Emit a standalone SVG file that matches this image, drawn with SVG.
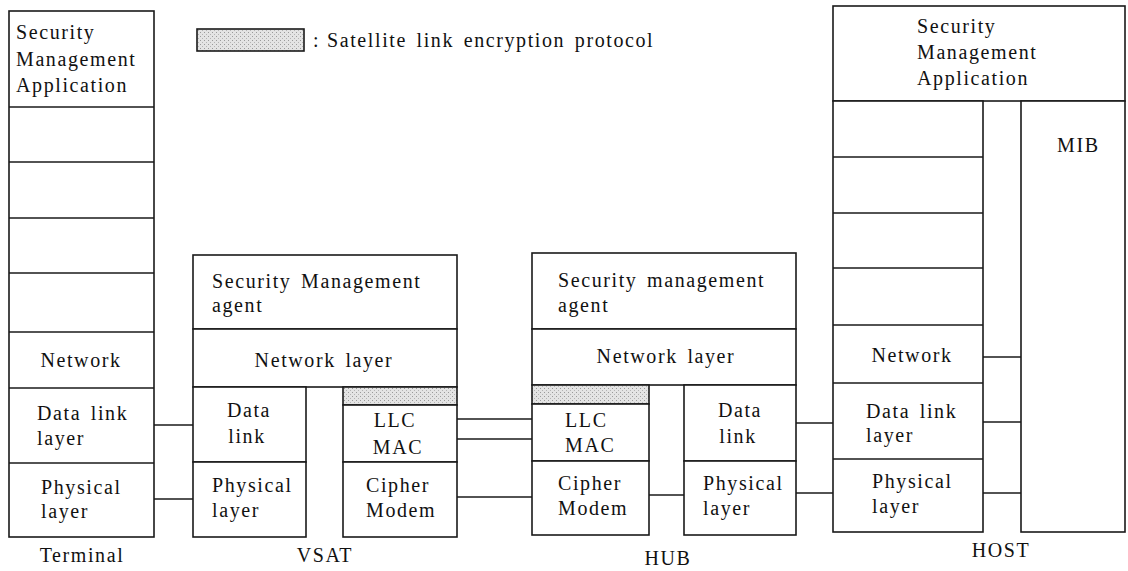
<svg xmlns="http://www.w3.org/2000/svg" width="1128" height="571" viewBox="0 0 1128 571">
<style>
.b{fill:#fff;stroke:#1a1a1a;stroke-width:1.6}
.s{fill:url(#dots);stroke:#1a1a1a;stroke-width:1.6}
.l{stroke:#1a1a1a;stroke-width:1.6;fill:none}
text{font-family:"Liberation Serif","DejaVu Serif","Times New Roman",serif;font-size:20px;fill:#111;letter-spacing:1.6px;word-spacing:3px}
.c{text-anchor:middle}
</style>
<defs>
<pattern id="dots" width="4" height="4" patternUnits="userSpaceOnUse">
<rect width="4" height="4" fill="#e4e4e4"/>
<rect x="0" y="0" width="1" height="1" fill="#9a9a9a"/>
<rect x="2" y="2" width="1" height="1" fill="#b4b4b4"/>
</pattern>
</defs>
<rect width="1128" height="571" fill="#fff"/>

<g id="legend">
<rect class="s" x="197" y="29" width="107" height="22"/>
<text x="313" y="47">:</text>
<text x="327" y="47">Satellite link encryption protocol</text>
</g>

<g id="connectors">
<line class="l" x1="154" y1="425" x2="193" y2="425"/>
<line class="l" x1="154" y1="499" x2="193" y2="499"/>
<line class="l" x1="457" y1="419" x2="532" y2="419"/>
<line class="l" x1="457" y1="439" x2="532" y2="439"/>
<line class="l" x1="457" y1="497" x2="532" y2="497"/>
<line class="l" x1="649" y1="495" x2="684" y2="495"/>
<line class="l" x1="796" y1="423" x2="833" y2="423"/>
<line class="l" x1="796" y1="493" x2="833" y2="493"/>
<line class="l" x1="983" y1="357" x2="1021" y2="357"/>
<line class="l" x1="983" y1="422" x2="1021" y2="422"/>
<line class="l" x1="983" y1="493" x2="1021" y2="493"/>
</g>

<g id="terminal">
<rect class="b" x="9" y="11" width="145" height="526"/>
<line class="l" x1="9" y1="107" x2="154" y2="107"/>
<line class="l" x1="9" y1="162" x2="154" y2="162"/>
<line class="l" x1="9" y1="218" x2="154" y2="218"/>
<line class="l" x1="9" y1="273" x2="154" y2="273"/>
<line class="l" x1="9" y1="332" x2="154" y2="332"/>
<line class="l" x1="9" y1="388" x2="154" y2="388"/>
<line class="l" x1="9" y1="463" x2="154" y2="463"/>
<text x="16" y="39">Security</text>
<text x="16" y="66">Management</text>
<text x="16" y="92">Application</text>
<text class="c" x="81" y="367">Network</text>
<text x="37" y="420">Data link</text>
<text x="37" y="445">layer</text>
<text x="41" y="494">Physical</text>
<text x="41" y="518">layer</text>
<text class="c" x="82" y="562">Terminal</text>
</g>

<g id="vsat">
<g id="vsat-agent">
<rect class="b" x="193" y="255" width="264" height="74"/>
<text x="212" y="288">Security Management</text>
<text x="212" y="312">agent</text>
</g>
<g id="vsat-network">
<rect class="b" x="193" y="329" width="264" height="58"/>
<text class="c" x="324" y="367">Network layer</text>
</g>
<g id="vsat-datalink">
<rect class="b" x="193" y="387" width="113" height="75"/>
<text class="c" x="249" y="417">Data</text>
<text class="c" x="247" y="443">link</text>
</g>
<g id="vsat-physical">
<rect class="b" x="193" y="462" width="113" height="75"/>
<text x="212" y="492">Physical</text>
<text x="212" y="517">layer</text>
</g>
<g id="vsat-encryption">
<rect class="s" x="343" y="387" width="114" height="18"/>
</g>
<g id="vsat-llcmac">
<rect class="b" x="343" y="405" width="114" height="57"/>
<text class="c" x="395" y="427">LLC</text>
<text class="c" x="398" y="454">MAC</text>
</g>
<g id="vsat-cipher">
<rect class="b" x="343" y="462" width="114" height="75"/>
<text x="366" y="492">Cipher</text>
<text x="366" y="517">Modem</text>
</g>
<text class="c" x="325" y="562">VSAT</text>
</g>

<g id="hub">
<g id="hub-agent">
<rect class="b" x="532" y="253" width="264" height="76"/>
<text x="558" y="287">Security management</text>
<text x="558" y="312">agent</text>
</g>
<g id="hub-network">
<rect class="b" x="532" y="329" width="264" height="56"/>
<text class="c" x="666" y="363">Network layer</text>
</g>
<g id="hub-encryption">
<rect class="s" x="532" y="385" width="117" height="19"/>
</g>
<g id="hub-llcmac">
<rect class="b" x="532" y="404" width="117" height="57"/>
<text x="565" y="427">LLC</text>
<text x="565" y="452">MAC</text>
</g>
<g id="hub-cipher">
<rect class="b" x="532" y="461" width="117" height="74"/>
<text x="558" y="490">Cipher</text>
<text x="558" y="515">Modem</text>
</g>
<g id="hub-datalink">
<rect class="b" x="684" y="385" width="112" height="76"/>
<text class="c" x="740" y="417">Data</text>
<text class="c" x="738" y="443">link</text>
</g>
<g id="hub-physical">
<rect class="b" x="684" y="461" width="112" height="74"/>
<text x="703" y="490">Physical</text>
<text x="703" y="515">layer</text>
</g>
<text class="c" x="668" y="565">HUB</text>
</g>

<g id="host">
<g id="host-application">
<rect class="b" x="833" y="6" width="292" height="95"/>
<text x="917" y="33">Security</text>
<text x="917" y="59">Management</text>
<text x="917" y="85">Application</text>
</g>
<g id="host-stack">
<rect class="b" x="833" y="101" width="150" height="431"/>
<line class="l" x1="833" y1="157" x2="983" y2="157"/>
<line class="l" x1="833" y1="213" x2="983" y2="213"/>
<line class="l" x1="833" y1="268" x2="983" y2="268"/>
<line class="l" x1="833" y1="325" x2="983" y2="325"/>
<line class="l" x1="833" y1="383" x2="983" y2="383"/>
<line class="l" x1="833" y1="459" x2="983" y2="459"/>
<text class="c" x="912" y="362">Network</text>
<text x="866" y="418">Data link</text>
<text x="866" y="442">layer</text>
<text x="872" y="488">Physical</text>
<text x="872" y="513">layer</text>
</g>
<g id="host-mib">
<rect class="b" x="1021" y="101" width="104" height="431"/>
<text x="1057" y="152">MIB</text>
</g>
<text class="c" x="1001" y="557">HOST</text>
</g>
</svg>
